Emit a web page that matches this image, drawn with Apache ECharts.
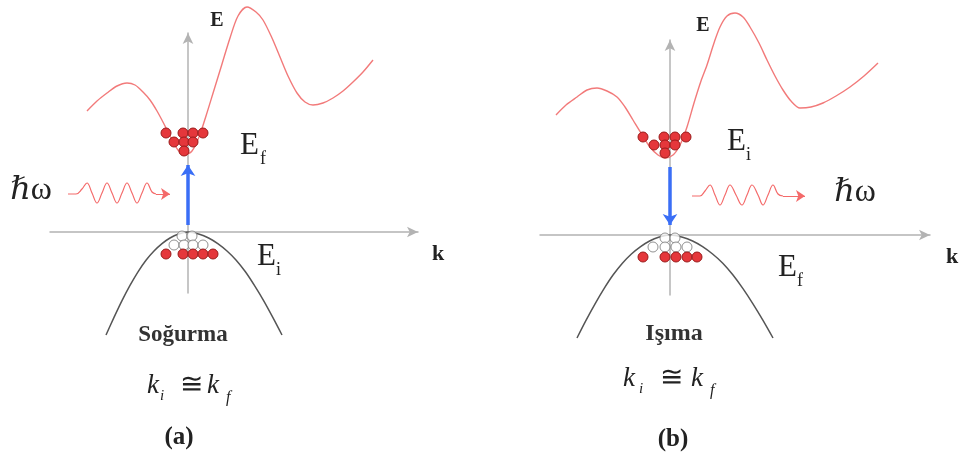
<!DOCTYPE html>
<html><head><meta charset="utf-8">
<script src="https://cdn.jsdelivr.net/npm/echarts@6/dist/echarts.min.js"></script>
<style>html,body{margin:0;padding:0;background:#fff}#c{width:960px;height:458px}</style>
</head><body><div id="c"></div>
<script>
// ---------- Panel (a): Soğurma (absorption) ----------  [k, E]
const condBandA = [[-5.05,6.05],[-4.55,6.55],[-4.05,6.95],[-3.55,7.3],[-3.05,7.45],[-2.65,7.35],[-2.25,7.0],[-1.9,6.6],[-1.55,6.05],[-1.2,5.4],[-0.85,4.7],[-0.5,4.1],[-0.15,3.85],[0.2,4.05],[0.55,4.75],[0.9,5.8],[1.3,7.1],[1.7,8.4],[2.1,9.7],[2.5,10.8],[2.95,11.25],[3.4,11.0],[3.75,10.6],[4.2,9.7],[4.6,8.75],[5.0,7.8],[5.45,6.95],[5.85,6.5],[6.25,6.35],[6.75,6.45],[7.25,6.7],[7.75,7.05],[8.25,7.5],[8.75,8.0],[9.25,8.6]];
const valBandA = [[-4.1,-5.15],[-3.7,-4.27],[-3.3,-3.43],[-2.9,-2.67],[-2.5,-1.99],[-2.1,-1.41],[-1.7,-0.95],[-1.3,-0.58],[-0.9,-0.3],[-0.5,-0.11],[0,0],[0.57,-0.11],[1.03,-0.3],[1.49,-0.58],[1.95,-0.95],[2.41,-1.41],[2.87,-1.99],[3.32,-2.67],[3.78,-3.43],[4.24,-4.27],[4.7,-5.15]];
const condElecA = [[-1.1,4.95],[-0.25,4.95],[0.25,4.95],[0.75,4.95],[-0.7,4.5],[-0.2,4.5],[0.25,4.5],[-0.2,4.05]];
const valHolesA = [[-0.3,-0.2],[0.2,-0.2],[-0.7,-0.65],[-0.2,-0.65],[0.25,-0.65],[0.75,-0.65]];
const valElecA = [[-1.1,-1.1],[-0.25,-1.1],[0.25,-1.1],[0.75,-1.1],[1.25,-1.1]];
const photonA = [[-6.0,1.9],[-5.6,1.9],[-5.3,2.15],[-5.05,2.45],[-4.8,1.95],[-4.55,1.45],[-4.3,1.95],[-4.05,2.45],[-3.8,1.95],[-3.55,1.45],[-3.3,1.95],[-3.05,2.45],[-2.8,1.95],[-2.55,1.45],[-2.3,1.95],[-2.05,2.45],[-1.8,2.0],[-1.6,1.9]];
const photonHeadA = [[-1.6,1.9],[-0.9,1.9]];
const transitionA = [[0,0.35],[0,3.35]];

// ---------- Panel (b): Işıma (emission) ----------
const condBandB = [[-5.7,6.0],[-5.2,6.5],[-4.65,6.9],[-4.15,7.25],[-3.65,7.35],[-3.15,7.2],[-2.65,6.9],[-2.25,6.4],[-1.85,5.75],[-1.45,5.1],[-1.0,4.4],[-0.6,4.0],[-0.25,3.85],[0.15,4.0],[0.5,4.5],[0.85,5.4],[1.2,6.6],[1.55,7.7],[1.85,8.5],[2.2,9.6],[2.5,10.4],[2.85,10.95],[3.25,11.1],[3.65,10.9],[4.0,10.4],[4.45,9.6],[4.85,8.75],[5.25,7.95],[5.65,7.25],[6.05,6.7],[6.5,6.35],[7.05,6.4],[7.65,6.6],[8.3,6.95],[9.0,7.4],[9.7,7.95],[10.4,8.6]];
const valBandB = [[-4.65,-5.15],[-4.2,-4.27],[-3.74,-3.43],[-3.29,-2.67],[-2.84,-1.99],[-2.38,-1.41],[-1.93,-0.95],[-1.47,-0.58],[-1.02,-0.3],[-0.57,-0.11],[0,0],[0.63,-0.11],[1.13,-0.3],[1.63,-0.58],[2.13,-0.95],[2.64,-1.41],[3.14,-1.99],[3.64,-2.67],[4.14,-3.43],[4.65,-4.27],[5.15,-5.15]];
const condElecB = [[-1.35,4.9],[-0.3,4.9],[0.25,4.9],[0.8,4.9],[-0.8,4.5],[-0.25,4.5],[0.25,4.5],[-0.25,4.1]];
const valHolesB = [[-0.25,-0.15],[0.25,-0.15],[-0.85,-0.6],[-0.25,-0.6],[0.3,-0.6],[0.85,-0.6]];
const valElecB = [[-1.35,-1.1],[-0.25,-1.1],[0.3,-1.1],[0.85,-1.1],[1.35,-1.1]];
const photonB = [[1.1,1.95],[1.5,1.95],[1.75,2.2],[2.0,2.5],[2.25,2.0],[2.5,1.5],[2.75,2.0],[3.0,2.5],[3.3,2.0],[3.6,1.5],[3.85,2.0],[4.1,2.5],[4.4,2.0],[4.65,1.5],[4.9,2.0],[5.15,2.5],[5.4,2.05],[5.65,1.95]];
const photonHeadB = [[5.65,1.95],[6.75,1.95]];
const transitionB = [[0,3.4],[0,0.5]];

// axis ranges
const kRangeA = [-6.9, 11.5], eRangeA = [-3.05, 9.95];
const kRangeB = [-6.5, 13], eRangeB = [-3, 9.75];

const SERIF = '"Liberation Serif","DejaVu Serif",serif';
const axisGrey = '#b3b3b3';
const curveRed = '#f27a7a';
const photonRed = '#f46a6a';
const blue = '#3a6ef6';

function axisCommon(min, max, grid) {
  return {
    type: 'value', gridIndex: grid, min: min, max: max,
    axisLine: { show: true, onZero: true, symbol: ['none', 'arrow'], symbolSize: [8, 11], lineStyle: { color: axisGrey, width: 1.5 } },
    axisTick: { show: false }, axisLabel: { show: false }, splitLine: { show: false }
  };
}

function panelSeries(idx, cond, val, ce, vh, ve, ph, phHead, tr) {
  const ax = { xAxisIndex: idx, yAxisIndex: idx };
  return [
    Object.assign({ type: 'line', data: cond, smooth: 0.3, symbol: 'none', clip: false, lineStyle: { color: curveRed, width: 1.4 }, z: 2 }, ax),
    Object.assign({ type: 'line', data: val, smooth: 0.3, symbol: 'none', clip: false, lineStyle: { color: '#555', width: 1.5 }, z: 2 }, ax),
    Object.assign({ type: 'line', data: ph, smooth: 0.4, symbol: 'none', clip: false, lineStyle: { color: photonRed, width: 1.2 }, z: 2 }, ax),
    Object.assign({ type: 'lines', coordinateSystem: 'cartesian2d', symbol: ['none', 'arrow'], symbolSize: 9, lineStyle: { color: photonRed, width: 1.2, opacity: 1 }, data: [{ coords: phHead }], z: 2 }, ax),
    Object.assign({ type: 'lines', coordinateSystem: 'cartesian2d', symbol: ['none', 'arrow'], symbolSize: 11, lineStyle: { color: blue, width: 3.5, opacity: 1 }, data: [{ coords: tr }], z: 3 }, ax),
    Object.assign({ type: 'scatter', data: vh, symbol: 'circle', symbolSize: 10, itemStyle: { color: '#fff', borderColor: '#777', borderWidth: 1 }, z: 4 }, ax),
    Object.assign({ type: 'scatter', data: ce.concat(ve), symbol: 'circle', symbolSize: 10, itemStyle: { color: '#e5373b', borderColor: '#9b1b1b', borderWidth: 1, opacity: 1 }, z: 4 }, ax)
  ];
}

function txt(x, y, text, font, align, color) {
  return { type: 'text', x: x, y: y, z: 10, style: { text: text, font: font, fill: color || '#222', textAlign: align || 'left', textVerticalAlign: 'middle', align: align || 'left', verticalAlign: 'middle' } };
}

const labels = [
  // panel a
  txt(217, 21, 'E', 'bold 20px ' + SERIF, 'center'),
  txt(438, 254, 'k', 'bold 22px ' + SERIF, 'center'),
  txt(31, 191, 'ℏω', '32px ' + SERIF, 'center'),
  txt(240, 146, 'E', '31px ' + SERIF), txt(260, 159, 'f', '18px ' + SERIF),
  txt(257, 257, 'E', '31px ' + SERIF), txt(276, 270, 'i', '18px ' + SERIF),
  txt(183, 335, 'Soğurma', 'bold 23px ' + SERIF, 'center', '#333'),
  txt(147, 386, 'k', 'italic 27px ' + SERIF), txt(160, 396, 'i', 'italic 15px ' + SERIF),
  txt(191, 386, '≅', '28px ' + SERIF, 'center'),
  txt(207, 386, 'k', 'italic 27px ' + SERIF), txt(226, 398, 'f', 'italic 16px ' + SERIF),
  txt(179, 438, '(a)', 'bold 25px ' + SERIF, 'center'),
  // panel b
  txt(703, 26, 'E', 'bold 20px ' + SERIF, 'center'),
  txt(952, 257, 'k', 'bold 22px ' + SERIF, 'center'),
  txt(855, 193, 'ℏω', '32px ' + SERIF, 'center'),
  txt(727, 142, 'E', '31px ' + SERIF), txt(746, 155, 'i', '18px ' + SERIF),
  txt(778, 268, 'E', '31px ' + SERIF), txt(797, 281, 'f', '18px ' + SERIF),
  txt(674, 334, 'Işıma', 'bold 24px ' + SERIF, 'center', '#333'),
  txt(623, 379, 'k', 'italic 27px ' + SERIF), txt(639, 389, 'i', 'italic 15px ' + SERIF),
  txt(671, 379, '≅', '28px ' + SERIF, 'center'),
  txt(691, 379, 'k', 'italic 27px ' + SERIF), txt(710, 391, 'f', 'italic 16px ' + SERIF),
  txt(673, 440, '(b)', 'bold 25px ' + SERIF, 'center')
];

const chart = echarts.init(document.getElementById('c'), null, { renderer: 'canvas' });
chart.setOption({
  animation: false,
  backgroundColor: '#fff',
  grid: [
    { left: 50, top: 33, width: 368, height: 260 },
    { left: 540, top: 40, width: 390, height: 255 }
  ],
  xAxis: [axisCommon(kRangeA[0], kRangeA[1], 0), axisCommon(kRangeB[0], kRangeB[1], 1)],
  yAxis: [axisCommon(eRangeA[0], eRangeA[1], 0), axisCommon(eRangeB[0], eRangeB[1], 1)],
  series: panelSeries(0, condBandA, valBandA, condElecA, valHolesA, valElecA, photonA, photonHeadA, transitionA)
    .concat(panelSeries(1, condBandB, valBandB, condElecB, valHolesB, valElecB, photonB, photonHeadB, transitionB)),
  graphic: { elements: labels }
});
</script>
</body></html>
